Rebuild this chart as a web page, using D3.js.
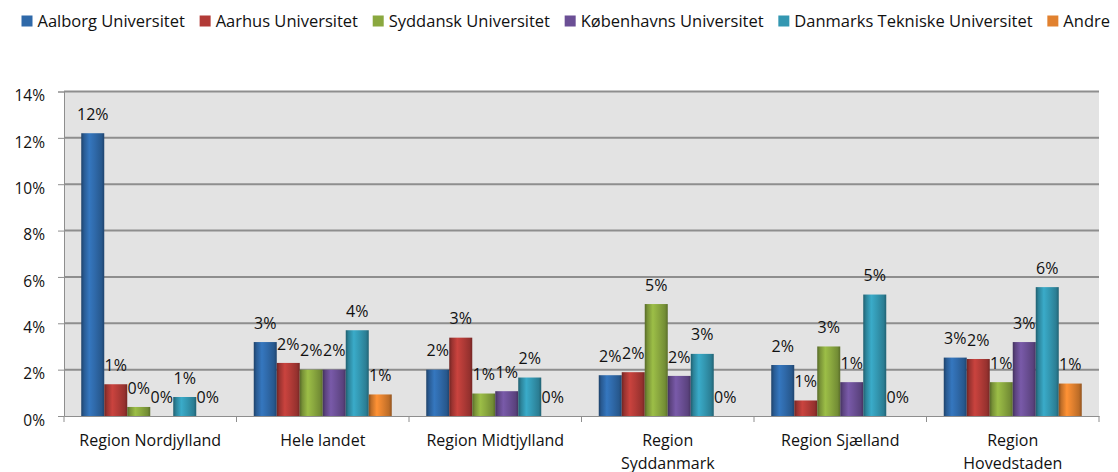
<!DOCTYPE html>
<html>
<head>
<meta charset="utf-8">
<script src="https://cdn.jsdelivr.net/npm/d3@7"></script>
<style>
  body { margin: 0; background: #fff; }
  svg { display: block; font-family: 'Open Sans', sans-serif; }
</style>
</head>
<body>
<div id="chart"></div>
<script>
// regions on the x axis ("\n" = line break in the tick label)
const categories = ['Region Nordjylland', 'Hele landet', 'Region Midtjylland', 'Region\nSyddanmark', 'Region Sjælland', 'Region\nHovedstaden']
const series = ['Aalborg Universitet', 'Aarhus Universitet', 'Syddansk Universitet', 'Københavns Universitet', 'Danmarks Tekniske Universitet', 'Andre']
const colors = ['#2f69a9', '#b23b37', '#8aa83f', '#6b4f95', '#3397b1', '#e1812f']

// share per region
const aalborg = [0.1220, 0.0319, 0.0200, 0.0176, 0.0220, 0.0252]
const aarhus = [0.0137, 0.0229, 0.0338, 0.0189, 0.0067, 0.0246]
const syddansk = [0.0039, 0.0200, 0.0097, 0.0483, 0.0300, 0.0146]
const koebenhavn = [0, 0.0200, 0.0107, 0.0173, 0.0146, 0.0319]
const dtu = [0.0082, 0.0370, 0.0166, 0.0268, 0.0524, 0.0556]
const andre = [0, 0.0093, 0, 0, 0, 0.0140]

const yTicks = [0, 0.02, 0.04, 0.06, 0.08, 0.10, 0.12, 0.14]

const values = [aalborg, aarhus, syddansk, koebenhavn, dtu, andre]

const width = 1118
const height = 472
const plot = { left: 64, right: 1099, top: 91.5, bottom: 416 }

const svg = d3.select('#chart')
  .append('svg')
  .attr('width', width)
  .attr('height', height)

const pct = d3.format('.0%')

const x = d3.scaleBand()
  .domain(categories)
  .range([plot.left, plot.right])

const xSub = d3.scaleBand()
  .domain(series)
  .range([0, x.bandwidth()])
  .paddingOuter(0.75)

const y = d3.scaleLinear()
  .domain([0, 0.14])
  .range([plot.bottom, plot.top])

// bevelled bar fills
const defs = svg.append('defs')
colors.forEach((c, i) => {
  const base = d3.color(c)
  const grad = defs.append('linearGradient')
    .attr('id', 'grad' + i)
    .attr('x1', 0).attr('x2', 1).attr('y1', 0).attr('y2', 0)
  const stops = [
    [0, base.darker(1.3)],
    [0.12, base.darker(0.4)],
    [0.35, base.brighter(0.35)],
    [0.6, base],
    [0.88, base.darker(0.5)],
    [1, base.darker(1.2)]
  ]
  stops.forEach(s => {
    grad.append('stop').attr('offset', s[0]).attr('stop-color', s[1].formatHex())
  })
})

// plot background
svg.append('rect')
  .attr('x', plot.left)
  .attr('y', plot.top)
  .attr('width', plot.right - plot.left)
  .attr('height', plot.bottom - plot.top)
  .attr('fill', '#e3e3e3')

// gridlines
svg.append('g')
  .selectAll('line')
  .data(yTicks.filter(d => d > 0))
  .join('line')
  .attr('x1', plot.left)
  .attr('x2', plot.right)
  .attr('y1', d => y(d))
  .attr('y2', d => y(d))
  .attr('stroke', '#8e8e8e')
  .attr('stroke-width', 2)

// y axis
const yAxis = svg.append('g')
  .attr('transform', `translate(${plot.left},0)`)
  .call(d3.axisLeft(y).tickValues(yTicks).tickFormat(pct).tickSize(6).tickPadding(13))
yAxis.select('.domain').attr('stroke', '#8e8e8e')
yAxis.selectAll('line').attr('stroke', '#8e8e8e')
yAxis.selectAll('text')
  .attr('font-size', 15.5)
  .attr('font-family', "'Open Sans', sans-serif")
  .attr('fill', '#111')
  .attr('dy', '0.6em')

// x axis: labels at band centres
const xAxis = svg.append('g')
  .attr('transform', `translate(0,${plot.bottom})`)
  .call(d3.axisBottom(x).tickSize(0))
xAxis.select('.domain').attr('stroke', '#8e8e8e')
xAxis.selectAll('text')
  .attr('font-size', 16)
  .attr('font-family', "'Open Sans', sans-serif")
  .attr('fill', '#111')
  .each(function (d) {
    const t = d3.select(this).text(null).attr('y', 0).attr('dy', null)
    d.split('\n').forEach((line, i) => {
      t.append('tspan')
        .attr('x', 0)
        .attr('y', 24 + i * 23)
        .attr('dy', '0.35em')
        .text(line)
    })
  })

// tick marks at category boundaries
svg.append('g')
  .selectAll('line')
  .data(categories.map(c => x(c)).concat([x(categories[categories.length - 1]) + x.bandwidth()]))
  .join('line')
  .attr('x1', d => d)
  .attr('x2', d => d)
  .attr('y1', plot.bottom)
  .attr('y2', plot.bottom + 6)
  .attr('stroke', '#8e8e8e')

// bars
const groups = svg.append('g')
  .selectAll('g')
  .data(categories)
  .join('g')
  .attr('transform', d => `translate(${x(d)},0)`)

groups.selectAll('rect')
  .data((c, ci) => series.map((s, si) => ({ s, si, v: values[si][ci] })))
  .join('rect')
  .attr('x', d => xSub(d.s))
  .attr('y', d => y(d.v))
  .attr('width', xSub.bandwidth())
  .attr('height', d => y(0) - y(d.v))
  .attr('fill', d => `url(#grad${d.si})`)

groups.selectAll('text')
  .data((c, ci) => series.map((s, si) => ({ s, si, v: values[si][ci] })))
  .join('text')
  .attr('x', d => xSub(d.s) + xSub.bandwidth() / 2)
  .attr('y', d => y(d.v) - 19)
  .attr('dy', '0.35em')
  .attr('text-anchor', 'middle')
  .attr('font-size', 16)
  .attr('fill', '#111')
  .text(d => pct(d.v))

// legend, spread so the last entry ends near the right edge like the original
const legend = svg.append('g').attr('transform', 'translate(21.5,21)')
const items = series.map((s, i) => {
  const item = legend.append('g')
  item.append('rect')
    .attr('x', 0)
    .attr('y', -5.5)
    .attr('width', 11)
    .attr('height', 11)
    .attr('fill', colors[i])
  const t = item.append('text')
    .attr('x', 16)
    .attr('dy', '0.35em')
    .attr('font-size', 16.5)
    .attr('fill', '#111')
    .text(s)
  return { item, w: 16 + t.node().getComputedTextLength() }
})
const total = d3.sum(items, d => d.w)
const gap = Math.max(8, (1110 - 21.5 - total) / (items.length - 1))
let lx = 0
items.forEach(d => {
  d.item.attr('transform', `translate(${lx},0)`)
  lx += d.w + gap
})
</script>
</body>
</html>
